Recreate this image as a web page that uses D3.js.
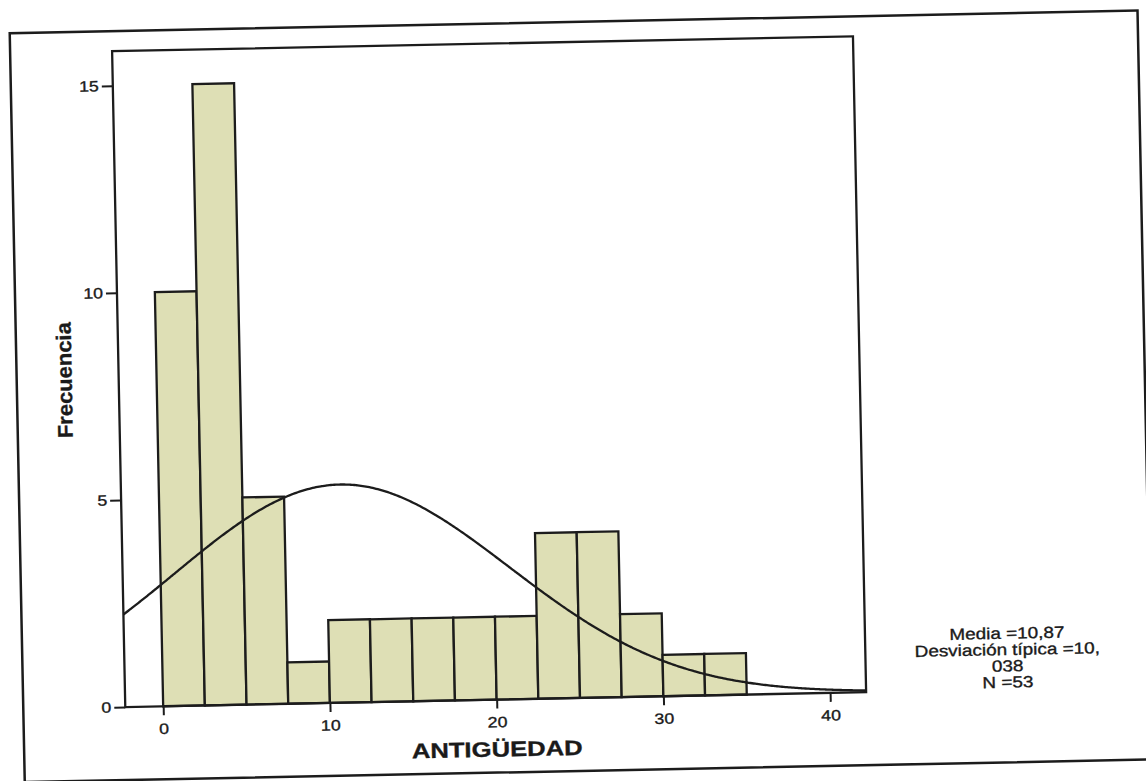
<!DOCTYPE html>
<html>
<head>
<meta charset="utf-8">
<script src="https://cdn.jsdelivr.net/npm/d3@7/dist/d3.min.js"></script>
<style>
  html, body { margin: 0; padding: 0; background: #ffffff; }
  svg { display: block; }
  text { font-family: Arial, "Liberation Sans", Helvetica, sans-serif; fill: #1a1a1a; stroke: #1a1a1a; stroke-width: 0.35px; }
</style>
</head>
<body>
<svg id="chart" width="1146" height="781"></svg>
<script>
// ---------------- data ----------------
const binEdges    = [0, 2.5, 5, 7.5, 10, 12.5, 15, 17.5, 20, 22.5, 25, 27.5, 30, 32.5, 35];
const frequencies = [10, 15, 5, 1, 2, 2, 2, 2, 2, 4, 4, 2, 1, 1];
const xTicks = [0, 10, 20, 30, 40];
const yTicks = [0, 5, 10, 15];
const media = 10.87;
const desviacion = 10.038;
const nTotal = 53;
const statsLines = ["Media =10,87", "Desviación típica =10,", "038", "N =53"];
const xTitle = "ANTIGÜEDAD";
const yTitle = "Frecuencia";

// ---------------- layout ----------------
const W = 1146, H = 781;
const plot = { left: 119, right: 860, top: 42, bottom: 698 };
const ink = "#1c1c1c";
const barFill = "#dedfb5";
const hStretch = 1.18;

const svg = d3.select("#chart");
svg.append("rect").attr("width", W).attr("height", H).attr("fill", "#ffffff");

// whole scanned page is slightly rotated
const root = svg.append("g").attr("transform", "rotate(-1.15, 573, 390)");

function stretch(sel, k) {
  sel.each(function () {
    const L = this.getComputedTextLength();
    this.setAttribute("textLength", (L * k).toFixed(2));
    this.setAttribute("lengthAdjust", "spacingAndGlyphs");
  });
}

// outer frame
root.append("rect")
  .attr("x", 17).attr("y", 22).attr("width", 1128).attr("height", 749)
  .attr("fill", "none").attr("stroke", ink).attr("stroke-width", 2.5);

// scales
const x = d3.scaleLinear().domain([-2.273, 42.16]).range([plot.left, plot.right]);
const y = d3.scaleLinear().domain([0, 15]).range([plot.bottom, 76.5]);

// bars
const bins = frequencies.map((f, i) => ({ x0: binEdges[i], x1: binEdges[i + 1], f }));
root.append("g").selectAll("rect").data(bins).join("rect")
  .attr("x", d => x(d.x0))
  .attr("y", d => y(d.f))
  .attr("width", d => x(d.x1) - x(d.x0))
  .attr("height", d => y(0) - y(d.f))
  .attr("fill", barFill)
  .attr("stroke", ink)
  .attr("stroke-width", 2.3);

// normal curve from the stated mean / sd / N
const binWidth = binEdges[1] - binEdges[0];
const dom = x.domain();
const curvePts = d3.range(dom[0], dom[1] + 0.001, 0.1).map(v => {
  const z = (v - media) / desviacion;
  return [v, nTotal * binWidth * Math.exp(-0.5 * z * z) / (desviacion * Math.sqrt(2 * Math.PI))];
});
root.append("defs").append("clipPath").attr("id", "plotClip")
  .append("rect").attr("x", plot.left).attr("y", plot.top)
  .attr("width", plot.right - plot.left).attr("height", plot.bottom - plot.top);
root.append("path")
  .datum(curvePts)
  .attr("clip-path", "url(#plotClip)")
  .attr("fill", "none")
  .attr("stroke", ink)
  .attr("stroke-width", 2.3)
  .attr("d", d3.line().x(d => x(d[0])).y(d => y(d[1])).curve(d3.curveBasis));

// inner frame
root.append("rect")
  .attr("x", plot.left).attr("y", plot.top)
  .attr("width", plot.right - plot.left).attr("height", plot.bottom - plot.top)
  .attr("fill", "none").attr("stroke", ink).attr("stroke-width", 2.3);

// axes
const xAxis = root.append("g").attr("transform", `translate(0,${plot.bottom})`)
  .call(d3.axisBottom(x).tickValues(xTicks).tickSize(9).tickPadding(8).tickFormat(d3.format("d")));
const yAxis = root.append("g").attr("transform", `translate(${plot.left},0)`)
  .call(d3.axisLeft(y).tickValues(yTicks).tickSize(11).tickPadding(3).tickFormat(d3.format("d")));
[xAxis, yAxis].forEach(a => {
  a.select(".domain").remove();
  a.selectAll(".tick line").attr("stroke", ink).attr("stroke-width", 2);
  a.selectAll(".tick text").attr("font-size", 15).attr("fill", ink)
    .style("font-family", 'Arial, "Liberation Sans", sans-serif');
  stretch(a.selectAll(".tick text"), hStretch);
});

// axis titles
const xt = root.append("text")
  .attr("x", 490).attr("y", 755)
  .attr("text-anchor", "middle")
  .attr("font-size", 21).attr("font-weight", "bold")
  .text(xTitle);
stretch(xt, 1.22);

root.append("text")
  .attr("transform", "translate(72,370) rotate(-90)")
  .attr("text-anchor", "middle")
  .attr("font-size", 21).attr("font-weight", "bold")
  .attr("textLength", 116).attr("lengthAdjust", "spacingAndGlyphs")
  .text(yTitle);

// statistics box
const st = root.append("g").selectAll("text").data(statsLines).join("text")
  .attr("x", 1002)
  .attr("y", (d, i) => 647.4 + i * 16.3)
  .attr("text-anchor", "middle")
  .attr("font-size", 16)
  .text(d => d);
stretch(st, hStretch);
</script>
</body>
</html>
